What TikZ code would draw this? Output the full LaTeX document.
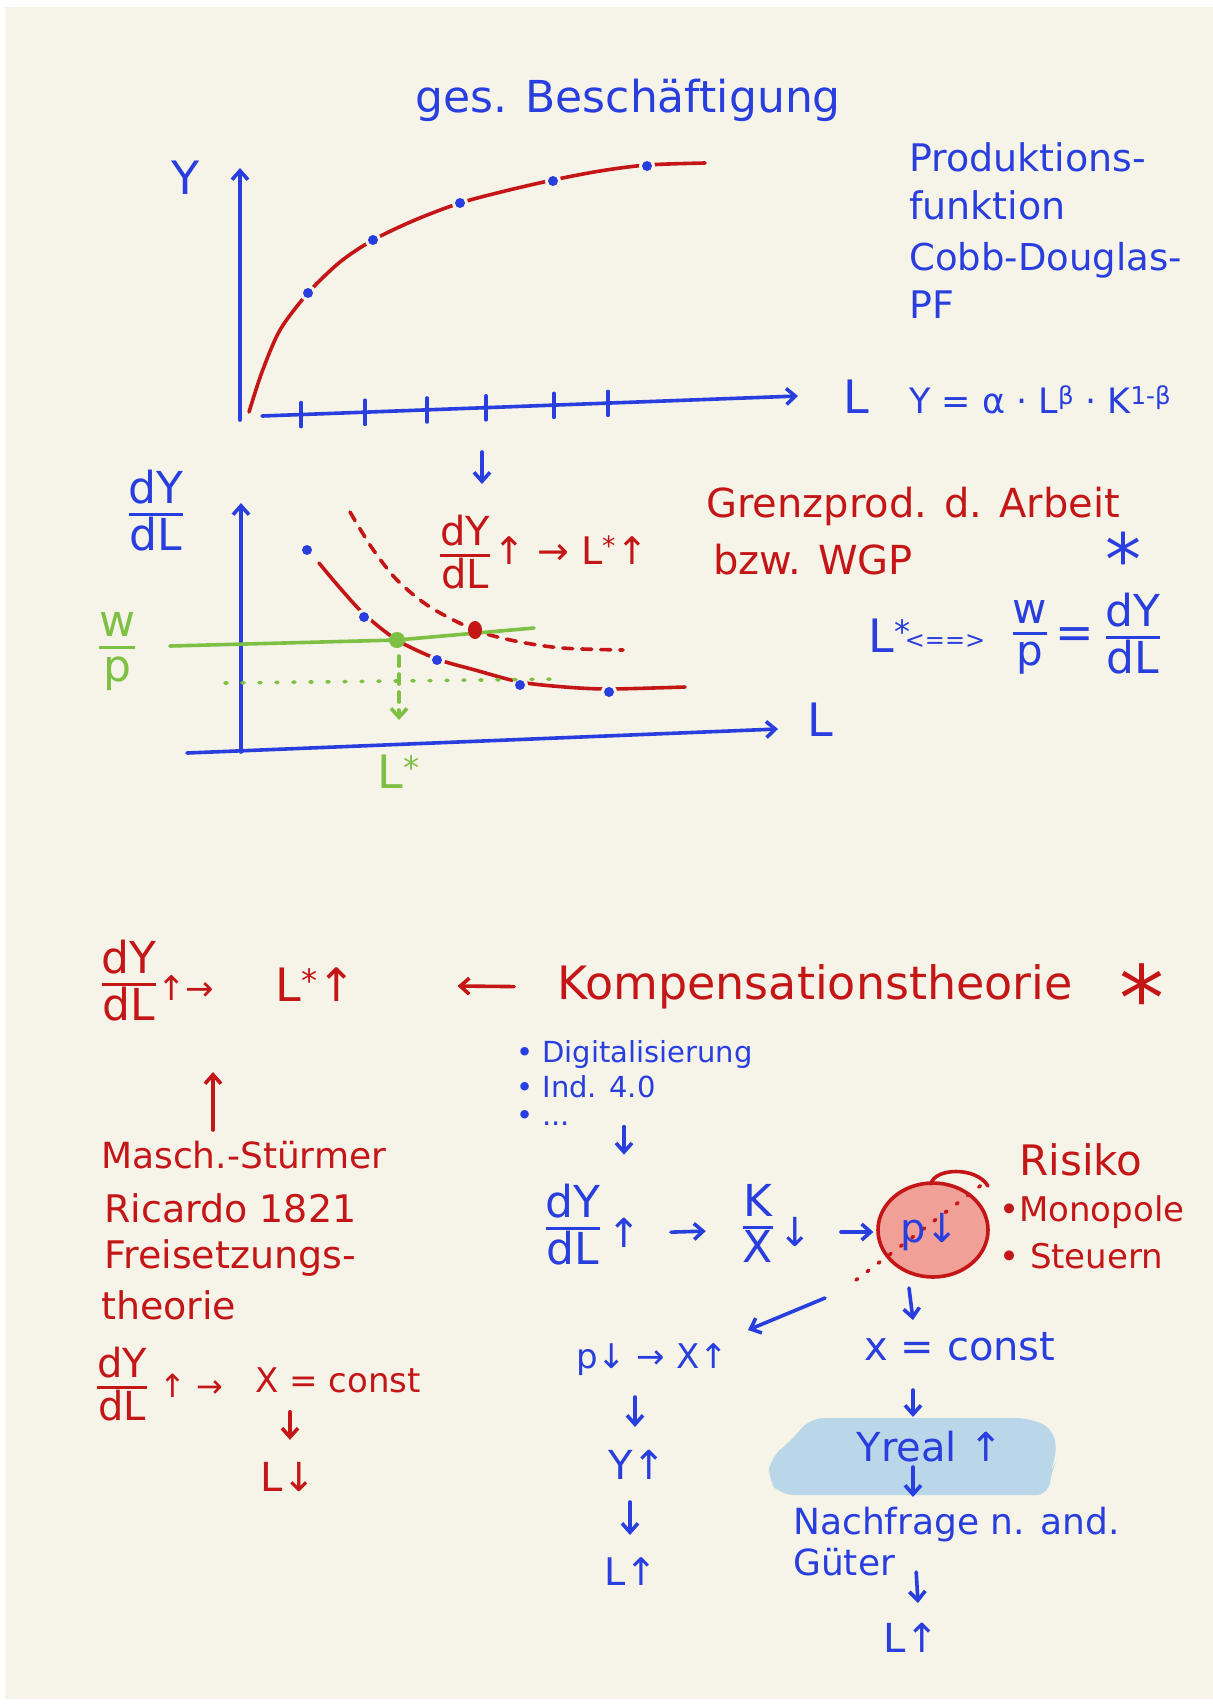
\documentclass[tikz,border=0pt]{standalone}
\usepackage{fontspec}
\setmainfont{DejaVu Sans}
\usetikzlibrary{arrows.meta,calc}
\definecolor{pen}{RGB}{40,62,222}
\definecolor{rd}{RGB}{196,22,22}
\definecolor{gr}{RGB}{125,192,68}
\definecolor{bg}{RGB}{246,243,233}
\definecolor{hlb}{RGB}{185,215,232}
\definecolor{hlr}{RGB}{240,152,142}
\setlength{\arrayrulewidth}{3.5pt}
\newcommand{\fs}[1]{\fontsize{#1}{#1}\selectfont}
\newcommand{\fr}[2]{\begin{tabular}{@{}c@{}}#1\\[-4pt]\hline\noalign{\vskip 1pt}#2\end{tabular}}
\tikzset{
  stroke/.style={line width=3.6pt,line cap=round,line join=round},
  arr/.style={stroke,-{Straight Barb[length=9pt,width=16pt]}},
  bl/.style={text=pen}, rt/.style={text=rd}, gt/.style={text=gr},
  every node/.style={inner sep=1pt},
}
\begin{document}
\begin{tikzpicture}[x=1pt,y=-1pt]
\useasboundingbox (0,0) rectangle (1213,1706);
\fill[white] (0,0) rectangle (1213,1706);
\fill[bg] (5,7) rectangle (1213,1699);

% ---------- title
\node[bl,font=\fs{44}] (title) at (628,100) {ges. Beschäftigung};

% ---------- graph 1
\node[bl,font=\fs{46}] (gY) at (186,178) {Y};
\node[bl,font=\fs{46}] (gL) at (856,397) {L};
\draw[pen,arr] (240,420) -- (240,168);
\draw[pen,arr] (262,416) -- (798,396);
\foreach \t in {301,365,427,486,554,608}{\draw[pen,stroke] (\t,{416-(\t-262)*0.0365-12}) -- ++(0,24);}
\draw[rd,stroke] plot[smooth] coordinates {(249,412) (262,372) (280,330) (308,293) (340,262) (373,240) (415,220) (460,203) (505,191) (553,180) (600,171) (647,165) (705,163)};
\foreach \p in {(308,293),(373,240),(460,203),(553,181),(647,166)}{\fill[bg] \p circle[radius=8pt]; \fill[pen] \p circle[radius=5pt];}

\node[bl,font=\fs{38},anchor=west] (pr1) at (908,157) {Produktions-};
\node[bl,font=\fs{38},anchor=west] (pr2) at (908,205) {funktion};
\node[bl,font=\fs{37},anchor=west] (pr3) at (908,260) {Cobb-Douglas-};
\node[bl,font=\fs{38},anchor=west] (pr4) at (908,305) {PF};
\node[bl,font=\fs{35},anchor=west] (pf) at (908,400) {Y = α · L\textsuperscript{β} · K\textsuperscript{1-β}};

\coordinate (mid1) at (482,452);
\draw[pen,arr] (mid1) -- ++(0,32);

% ---------- graph 2
\node[bl,font=\fs{44}] (g2lab) at (156,517) {\fr{dY}{dL}};
\draw[pen,arr] (241,752) -- (241,503);
\draw[pen,arr] (187,753) -- (778,729);
\node[bl,font=\fs{46}] (g2L) at (820,720) {L};
\node[gt,font=\fs{44}] (wp) at (117,650) {\fr{w}{p}};

\draw[rd,stroke,dash pattern=on 10pt off 9pt] plot[smooth] coordinates {(350,512) (372,548) (397,580) (430,607) (475,630) (515,641) (562,648) (623,650)};
\draw[rd,stroke] plot[smooth] coordinates {(319,563) (340,588) (364,614) (397,640) (437,659) (475,670) (520,682) (565,687) (609,689) (685,687)};
\foreach \p in {(307,550),(364,617),(437,660),(520,685),(609,692)}{\fill[bg] \p circle[radius=8pt]; \fill[pen] \p circle[radius=5pt];}

\draw[gr,stroke] (170,646) -- (397,640) -- (534,628);
\draw[gr,stroke,dash pattern=on 2pt off 15pt] (225,683) -- (562,679);
\draw[gr,stroke,dash pattern=on 10pt off 8pt,-{Straight Barb[length=9pt,width=16pt]}] (399,656) -- (399,720);
\fill[gr] (397,640) circle[radius=8pt];
\fill[rd] (475,630) ellipse[x radius=7pt,y radius=9pt];

\node[gt,font=\fs{46}] (lstar) at (399,772) {L\textsuperscript{*}};
\node[rt,font=\fs{40}] (rq) at (465,558) {\fr{dY}{dL}};
\node[rt,font=\fs{38},anchor=west] (rq2) at (492,550) {↑ → L\textsuperscript{*}↑};

\node[rt,font=\fs{40},anchor=west] (gp1) at (705,506) {Grenzprod. d. Arbeit};
\node[rt,font=\fs{40},anchor=west] (gp2) at (712,560) {bzw. WGP};
\node[bl,font=\fs{72},anchor=base,inner sep=0pt] (st1) at (1123,585) {*};
\node[bl,font=\fs{46}] (ls1) at (890,636) {L\textsuperscript{*}};
\node[bl,font=\fs{24}] (ls2) at (945,642) {<==>};
\node[bl,font=\fs{42}] (ls3) at (1030,636) {\fr{w}{p}};
\node[bl,font=\fs{46}] (ls4) at (1075,638) {=};
\node[bl,font=\fs{44}] (ls5) at (1133,640) {\fr{dY}{dL}};

% ---------- bottom left
\node[rt,font=\fs{44}] (k1) at (129,987) {\fr{dY}{dL}};
\node[rt,font=\fs{34},anchor=west] (k1b) at (156,988) {↑→};
\node[rt,font=\fs{46}] (k2) at (316,985) {L\textsuperscript{*}↑};
\node[rt,font=\fs{46}] (komp) at (815,987) {Kompensationstheorie};
\node[rt,font=\fs{90},anchor=base] (st2) at (1142,1030) {*};
\draw[rd,arr,shorten <=42pt,shorten >=100pt] (komp.west) -- (k2.east);

\node[rt,font=\fs{36},anchor=west] (m1) at (100,1155) {Masch.-Stürmer};
\node[rt,font=\fs{38},anchor=west] (m2) at (103,1208) {Ricardo 1821};
\node[rt,font=\fs{38},anchor=west] (m3) at (103,1258) {Freisetzungs-};
\node[rt,font=\fs{38},anchor=west] (m4) at (100,1305) {theorie};
\draw[rd,arr] ($(m1.west)+(113,-25)$) -- ++(0,-58);

\node[rt,font=\fs{40}] (f1) at (122,1390) {\fr{dY}{dL}};
\node[rt,font=\fs{32},anchor=west] (f1b) at (158,1386) {↑ →};
\node[rt,font=\fs{34}] (f2) at (338,1380) {X = const};
\node[rt,font=\fs{40}] (f3) at (288,1477) {L↓};
\draw[rd,arr] ($(f2.south)+(-48,18)$) -- ++(0,28);

% ---------- bottom right
\node[bl,font=\fs{29},anchor=west] (b1) at (515,1054) {• Digitalisierung};
\node[bl,font=\fs{29},anchor=west] (b2) at (515,1087) {• Ind. 4.0};
\node[bl,font=\fs{29},anchor=west] (b3) at (515,1118) {• ...};

\node[bl,font=\fs{44}] (c1) at (573,1231) {\fr{dY}{dL}};
\node[bl,font=\fs{40}] (c1u) at (624,1233) {↑};
\draw[pen,arr] (c1u.north |- b3.south) -- ++(0,28);
\node[bl,font=\fs{44}] (c2) at (758,1230) {\fr{K}{X}};
\node[bl,font=\fs{40}] (c2d) at (795,1232) {↓};
\draw[pen,arr,shorten <=29pt,shorten >=36pt] (c1u.east) -- (c2.west);

\fill[hlr,opacity=0.9] (933,1230) ellipse[x radius=54pt,y radius=46pt];
\draw[rd,stroke] (933,1230) ellipse[x radius=55pt,y radius=47pt];
\draw[rd,stroke] (931,1184) .. controls (934,1168) and (976,1166) .. (988,1186);
\draw[rd,stroke,dash pattern=on 2pt off 12pt] (856,1280) -- (988,1180);
\node[bl,font=\fs{40}] (c3) at (930,1232) {p↓};
\draw[pen,arr,shorten <=28pt,shorten >=26pt] (c2d.east) -- (c3.west);

\node[rt,font=\fs{42}] (ri) at (1081,1160) {Risiko};
\node[rt,font=\fs{34},anchor=west] (ri1) at (998,1212) {•Monopole};
\node[rt,font=\fs{34},anchor=west] (ri2) at (998,1256) {• Steuern};

\node[bl,font=\fs{34}] (d1) at (652,1360) {p↓ → X↑};
\node[bl,font=\fs{40}] (d2) at (960,1347) {x = const};
\draw[pen,arr] ($(c3)+(-105,66)$) -- ($(d1)+(96,-30)$);
\draw[pen,arr] ($(c3)+(-21,56)$) -- ($(d2)+(-47,-27)$);

\node[bl,font=\fs{40}] (e1) at (637,1465) {Y↑};
\node[bl,font=\fs{38}] (g1) at (631,1572) {L↑};
\draw[pen,arr] ($(d1)+(-17,37)$) -- ($(e1)+(-2,-38)$);
\draw[pen,arr] ($(e1)+(-7,37)$) -- ($(g1)+(-1,-37)$);

\fill[hlb,rounded corners=14pt] (810,1418) -- (1030,1418) -- (1055,1430) -- (1056,1462) -- (1050,1472) -- (1050,1495) -- (780,1495) -- (768,1480) -- (770,1458) -- (790,1442) -- cycle;
\node[bl,font=\fs{40}] (e2) at (930,1447) {Yreal ↑};
\draw[pen,arr] ($(d2)+(-47,43)$) -- ($(e2)+(-17,-30)$);
\node[bl,font=\fs{36},anchor=west] (g2a) at (792,1525) {Nachfrage n. and.};
\node[bl,font=\fs{36},anchor=west] (g2b) at (792,1562) {Güter};
\draw[pen,arr] ($(e2)+(-17,20)$) -- ($(g2a.west)+(121,-28)$);
\node[bl,font=\fs{40}] (h2) at (911,1638) {L↑};
\draw[pen,arr] ($(g2b.east)+(20,10)$) -- ($(h2)+(7,-35)$);
\end{tikzpicture}
\end{document}
